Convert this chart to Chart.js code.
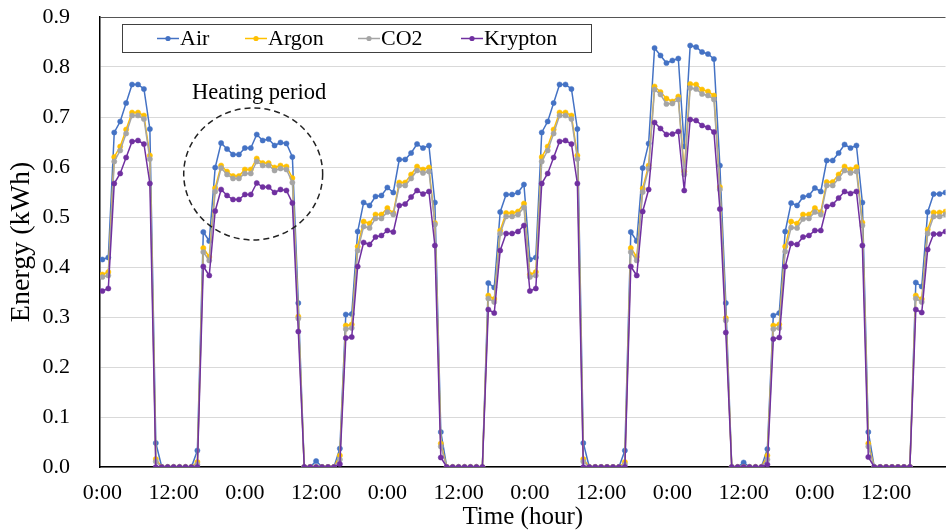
<!DOCTYPE html>
<html>
<head>
<meta charset="utf-8">
<title>Energy</title>
<script src="https://cdn.jsdelivr.net/npm/chart.js@4.4.0/dist/chart.umd.min.js"></script>
<style>
    html, body { margin: 0; padding: 0; background: #fff; overflow: hidden; }
    #wrap { width: 950px; height: 530px; }
</style>
</head>
<body>
<div id="wrap"><canvas id="energyChart" width="950" height="530"></canvas></div>
<script>
// Hourly energy use (kWh), index = hour from first 0:00
const air = [
    0.415, 0.419, 0.669, 0.691, 0.728, 0.765, 0.765, 0.756, 0.676, 0.048, 0, 0, 0, 0, 0, 0, 0.033,
    0.470, 0.452, 0.599, 0.648, 0.636, 0.625, 0.625, 0.638, 0.638, 0.665, 0.653, 0.656, 0.643, 0.649, 0.647, 0.620, 0.328, 0, 0, 0.012, 0, 0, 0, 0.037,
    0.305, 0.306, 0.471, 0.529, 0.523, 0.541, 0.543, 0.559, 0.549, 0.615, 0.615, 0.628, 0.646, 0.638, 0.643, 0.529, 0.070, 0, 0, 0, 0, 0, 0, 0, 0.368, 0.359, 0.510, 0.545, 0.545, 0.549, 0.565,
    0.415, 0.419, 0.669, 0.691, 0.728, 0.765, 0.765, 0.756, 0.676, 0.048, 0, 0, 0, 0, 0, 0, 0.033,
    0.470, 0.452, 0.598, 0.647, 0.838, 0.823, 0.808, 0.813, 0.817, 0.641, 0.843, 0.840, 0.830, 0.826, 0.816, 0.603, 0.328, 0, 0, 0.009, 0, 0, 0, 0.036,
    0.303, 0.308, 0.471, 0.528, 0.523, 0.540, 0.543, 0.558, 0.551, 0.613, 0.613, 0.628, 0.645, 0.638, 0.643, 0.529, 0.070, 0, 0, 0, 0, 0, 0, 0, 0.369, 0.361, 0.510, 0.546, 0.546, 0.549
];
const argon = [
    0.385, 0.390, 0.620, 0.641, 0.675, 0.709, 0.709, 0.703, 0.623, 0.016, 0, 0, 0, 0, 0, 0, 0.010,
    0.438, 0.420, 0.558, 0.603, 0.591, 0.582, 0.582, 0.595, 0.595, 0.617, 0.608, 0.608, 0.599, 0.603, 0.601, 0.578, 0.301, 0, 0, 0, 0, 0, 0, 0.023,
    0.283, 0.285, 0.441, 0.491, 0.487, 0.505, 0.505, 0.518, 0.508, 0.569, 0.569, 0.585, 0.601, 0.595, 0.599, 0.488, 0.047, 0, 0, 0, 0, 0, 0, 0, 0.343, 0.336, 0.473, 0.508, 0.508, 0.511, 0.527,
    0.385, 0.390, 0.620, 0.641, 0.675, 0.709, 0.709, 0.703, 0.623, 0.016, 0, 0, 0, 0, 0, 0, 0.010,
    0.438, 0.420, 0.557, 0.603, 0.761, 0.750, 0.737, 0.731, 0.741, 0.591, 0.766, 0.765, 0.755, 0.751, 0.743, 0.560, 0.298, 0, 0, 0, 0, 0, 0, 0.023,
    0.283, 0.285, 0.441, 0.491, 0.487, 0.505, 0.505, 0.518, 0.510, 0.570, 0.570, 0.585, 0.601, 0.595, 0.600, 0.489, 0.047, 0, 0, 0, 0, 0, 0, 0, 0.343, 0.336, 0.475, 0.509, 0.509, 0.511
];
const co2 = [
    0.380, 0.383, 0.611, 0.633, 0.667, 0.703, 0.703, 0.696, 0.616, 0.011, 0, 0, 0, 0, 0, 0, 0.005,
    0.430, 0.413, 0.551, 0.598, 0.585, 0.577, 0.577, 0.587, 0.587, 0.611, 0.603, 0.603, 0.593, 0.597, 0.595, 0.569, 0.297, 0, 0, 0, 0, 0, 0, 0.015,
    0.276, 0.278, 0.433, 0.481, 0.478, 0.497, 0.497, 0.510, 0.505, 0.563, 0.563, 0.577, 0.593, 0.588, 0.591, 0.485, 0.041, 0, 0, 0, 0, 0, 0, 0, 0.337, 0.330, 0.467, 0.501, 0.501, 0.505, 0.519,
    0.380, 0.383, 0.611, 0.633, 0.667, 0.703, 0.703, 0.696, 0.616, 0.011, 0, 0, 0, 0, 0, 0, 0.005,
    0.430, 0.413, 0.550, 0.597, 0.755, 0.745, 0.726, 0.727, 0.735, 0.585, 0.758, 0.756, 0.746, 0.743, 0.735, 0.555, 0.293, 0, 0, 0, 0, 0, 0, 0.015,
    0.276, 0.278, 0.431, 0.479, 0.478, 0.496, 0.497, 0.510, 0.505, 0.563, 0.563, 0.577, 0.593, 0.588, 0.591, 0.483, 0.041, 0, 0, 0, 0, 0, 0, 0, 0.337, 0.330, 0.467, 0.501, 0.501, 0.505
];
const krypton = [
    0.352, 0.357, 0.567, 0.587, 0.619, 0.651, 0.653, 0.646, 0.567, 0, 0, 0, 0, 0, 0, 0, 0,
    0.401, 0.383, 0.512, 0.555, 0.543, 0.535, 0.535, 0.545, 0.545, 0.568, 0.560, 0.560, 0.549, 0.555, 0.553, 0.528, 0.271, 0, 0, 0, 0, 0, 0, 0.006,
    0.258, 0.260, 0.401, 0.449, 0.445, 0.460, 0.463, 0.473, 0.470, 0.523, 0.526, 0.540, 0.553, 0.546, 0.551, 0.443, 0.019, 0, 0, 0, 0, 0, 0, 0, 0.315, 0.308, 0.433, 0.467, 0.467, 0.471, 0.483,
    0.352, 0.357, 0.567, 0.587, 0.619, 0.651, 0.653, 0.646, 0.567, 0, 0, 0, 0, 0, 0, 0, 0,
    0.401, 0.383, 0.511, 0.555, 0.689, 0.677, 0.665, 0.666, 0.671, 0.553, 0.695, 0.693, 0.683, 0.679, 0.670, 0.516, 0.269, 0, 0, 0, 0, 0, 0, 0.005,
    0.256, 0.259, 0.401, 0.447, 0.445, 0.460, 0.463, 0.473, 0.473, 0.521, 0.525, 0.538, 0.551, 0.547, 0.551, 0.443, 0.020, 0, 0, 0, 0, 0, 0, 0, 0.315, 0.309, 0.435, 0.466, 0.466, 0.471
];

const seriesNames = ['Air', 'Argon', 'CO2', 'Krypton'];
const seriesColors = ['#4472C4', '#FFC000', '#A5A5A5', '#7030A0'];

// x axis labels every 12 h
const tickHours = [0, 12, 24, 36, 48, 60, 72, 84, 96, 108, 120, 132];
const tickLabels = ['0:00', '12:00', '0:00', '12:00', '0:00', '12:00', '0:00', '12:00', '0:00', '12:00', '0:00', '12:00'];
const yTicks = [0, 0.1, 0.2, 0.3, 0.4, 0.5, 0.6, 0.7, 0.8, 0.9];

// dashed "Heating period" circle, in data units (hour, kWh)
const heatNote = { text: 'Heating period', cx: 25.4, cy: 0.586, rx: 11.7, ry: 0.132, textY: 0.748 };

const FONT = "'Liberation Serif', 'Times New Roman', serif";

function toPoints(values) {
    return values.map((v, i) => ({ x: i, y: v }));
}

// legend drawn as a framed row inside the plot, like the original
const boxLegend = {
    id: 'boxLegend',
    afterDraw(chart) {
        const c = chart.ctx;
        c.save();
        c.strokeStyle = '#404040';
        c.lineWidth = 1;
        c.strokeRect(122.5, 24.5, 469, 28);
        const starts = [157, 245, 358, 461];
        c.font = '22px ' + FONT;
        c.textBaseline = 'middle';
        seriesNames.forEach((name, k) => {
            const x = starts[k];
            c.strokeStyle = seriesColors[k];
            c.lineWidth = 1.5;
            c.beginPath();
            c.moveTo(x, 38.5);
            c.lineTo(x + 22, 38.5);
            c.stroke();
            c.fillStyle = seriesColors[k];
            c.beginPath();
            c.arc(x + 11, 38.5, 2.6, 0, Math.PI * 2);
            c.fill();
            c.fillStyle = '#000';
            c.fillText(name, x + 23, 39);
        });
        c.restore();
    }
};

const heatingCircle = {
    id: 'heatingCircle',
    afterDatasetsDraw(chart) {
        const xs = chart.scales.x, ys = chart.scales.y;
        const cx = xs.getPixelForValue(heatNote.cx);
        const cy = ys.getPixelForValue(heatNote.cy);
        const rx = xs.getPixelForValue(heatNote.cx + heatNote.rx) - cx;
        const ry = cy - ys.getPixelForValue(heatNote.cy + heatNote.ry);
        const c = chart.ctx;
        c.save();
        c.strokeStyle = '#222';
        c.lineWidth = 1.5;
        c.setLineDash([6, 4]);
        c.beginPath();
        c.ellipse(cx, cy, rx, ry, 0, 0, Math.PI * 2);
        c.stroke();
        c.setLineDash([]);
        c.font = '22.5px ' + FONT;
        c.fillStyle = '#000';
        c.textAlign = 'center';
        c.textBaseline = 'middle';
        c.fillText(heatNote.text, cx + 6, ys.getPixelForValue(heatNote.textY));
        c.restore();
    }
};

document.addEventListener('DOMContentLoaded', function() {
    const ctx = document.getElementById('energyChart').getContext('2d');
    const allSeries = [air, argon, co2, krypton];

    new Chart(ctx, {
        type: 'line',
        data: {
            datasets: allSeries.map((vals, k) => ({
                label: seriesNames[k],
                data: toPoints(vals),
                borderColor: seriesColors[k],
                backgroundColor: seriesColors[k],
                pointBackgroundColor: seriesColors[k],
                pointBorderColor: seriesColors[k],
                borderWidth: 1.5,
                pointRadius: 2.6,
                pointBorderWidth: 0.5,
                tension: 0,
                fill: false,
                order: 4 - k
            }))
        },
        options: {
            responsive: false,
            animation: false,
            layout: { padding: { top: 17, right: 0, bottom: 0, left: 0 } },
            plugins: {
                legend: { display: false },
                tooltip: { enabled: false }
            },
            scales: {
                x: {
                    type: 'linear',
                    min: -0.4,
                    max: 142,
                    afterBuildTicks: s => { s.ticks = tickHours.map(v => ({ value: v })); },
                    afterFit: s => { s.height = 63; },
                    ticks: {
                        autoSkip: false,
                        maxRotation: 0,
                        padding: 13,
                        color: '#000',
                        font: { family: FONT, size: 22 },
                        callback: v => tickLabels[tickHours.indexOf(v)]
                    },
                    grid: { display: false, drawTicks: false },
                    border: { display: true, color: '#000', width: 1.5 },
                    title: {
                        display: true,
                        text: 'Time (hour)',
                        color: '#000',
                        font: { family: FONT, size: 25, lineHeight: 1 },
                        padding: { top: 0, bottom: 0 }
                    }
                },
                y: {
                    min: 0,
                    max: 0.9,
                    afterBuildTicks: s => { s.ticks = yTicks.map(v => ({ value: v })); },
                    afterFit: s => {
                        s.width = 100;
                        s.paddingTop = 0;
                        s.paddingBottom = 0;
                    },
                    ticks: {
                        padding: 30,
                        color: '#000',
                        font: { family: FONT, size: 22 },
                        callback: v => v.toFixed(1)
                    },
                    grid: {
                        drawTicks: false,
                        lineWidth: 1,
                        color: c => (c.tick && c.tick.value > 0.85) ? '#555' : '#d9d9d9'
                    },
                    border: { display: true, color: '#000', width: 1.5 },
                    title: {
                        display: true,
                        text: 'Energy (kWh)',
                        color: '#000',
                        font: { family: FONT, size: 28, lineHeight: 1 },
                        padding: { top: 8, bottom: 0 }
                    }
                }
            }
        },
        plugins: [heatingCircle, boxLegend]
    });
});
</script>
</body>
</html>
